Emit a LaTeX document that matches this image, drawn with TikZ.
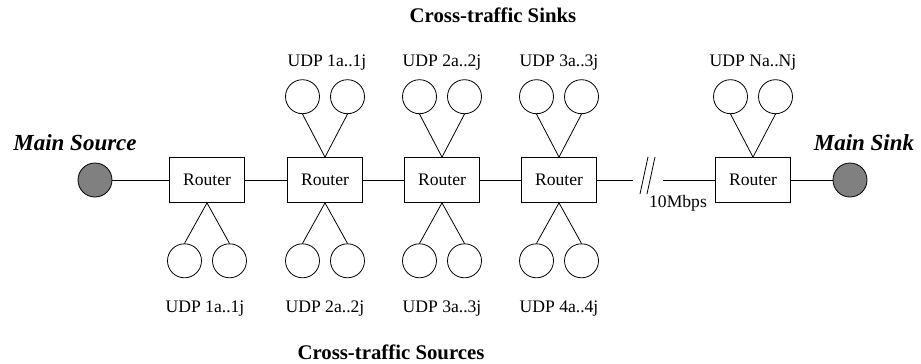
\documentclass[tikz,border=0pt]{standalone}
\usepackage{fontspec}
\setmainfont{Liberation Serif}
\usetikzlibrary{positioning}

\tikzset{
	router/.style={draw, minimum width=75pt, minimum height=45pt, inner sep=0pt, font=\fontsize{17.6}{20}\selectfont},
	host/.style={draw, circle, minimum size=34pt, inner sep=0pt},
	mainhost/.style={host, fill=gray},
	udplabel/.style={anchor=base, font=\fontsize{17.6}{20}\selectfont},
	grouptitle/.style={anchor=base, font=\fontsize{20.8}{24}\selectfont\bfseries},
	mainlabel/.style={anchor=base, font=\fontsize{23}{26}\selectfont\bfseries\itshape},
}

\begin{document}
\begin{tikzpicture}[x=1pt, y=-1pt, line width=0.8pt]
	\useasboundingbox (0,0) rectangle (921,364);
	%Titles
	\node [grouptitle] (sinks) at (493,22) {Cross-traffic Sinks};
	\node [grouptitle] (sources) at (391,359) {Cross-traffic Sources};
	%Main source and sink
	\node [mainhost] (src) at (95,180) {};
	\node [mainhost] (sink) at (850,180) {};
	\node [mainlabel] (srclabel) at (75,150) {Main Source};
	\node [mainlabel] (sinklabel) at (864,150) {Main Sink};
	%Routers
	\node [router] (r1) at (207,180) {Router};
	\node [router] (r2) at (325,180) {Router};
	\node [router] (r3) at (442,180) {Router};
	\node [router] (r4) at (559,180) {Router};
	\node [router] (r5) at (753,180) {Router};
	%Backbone
	\coordinate (b1) at (633,180);
	\coordinate (b2) at (663,180);
	\draw (src) -- (r1);
	\draw (r1) -- (r2);
	\draw (r2) -- (r3);
	\draw (r3) -- (r4);
	\draw (r4) -- (b1);
	\draw (b2) -- (r5);
	\draw (r5) -- (sink);
	\draw (640,194) -- (648,157);
	\draw (647,194) -- (655,157);
	\node [udplabel] (rate) at (678,207) {10Mbps};
	%Sinks above
	\node [host, above=43pt of r2.north, xshift=-22.5pt] (t2a) {};
	\node [host, above=43pt of r2.north, xshift=22.5pt] (t2b) {};
	\node [host, above=43pt of r3.north, xshift=-22.5pt] (t3a) {};
	\node [host, above=43pt of r3.north, xshift=22.5pt] (t3b) {};
	\node [host, above=43pt of r4.north, xshift=-22.5pt] (t4a) {};
	\node [host, above=43pt of r4.north, xshift=22.5pt] (t4b) {};
	\node [host, above=43pt of r5.north, xshift=-22.5pt] (t5a) {};
	\node [host, above=43pt of r5.north, xshift=22.5pt] (t5b) {};
	\draw (t2a.south) -- (r2.north) -- (t2b.south);
	\draw (t3a.south) -- (r3.north) -- (t3b.south);
	\draw (t4a.south) -- (r4.north) -- (t4b.south);
	\draw (t5a.south) -- (r5.north) -- (t5b.south);
	\node [udplabel] (lt2) at (327,66) {UDP 1a..1j};
	\node [udplabel] (lt3) at (442,66) {UDP 2a..2j};
	\node [udplabel] (lt4) at (559,66) {UDP 3a..3j};
	\node [udplabel] (lt5) at (753,66) {UDP Na..Nj};
	%Sources below
	\node [host, below=40.5pt of r1.south, xshift=-22.5pt] (s1a) {};
	\node [host, below=40.5pt of r1.south, xshift=22.5pt] (s1b) {};
	\node [host, below=40.5pt of r2.south, xshift=-22.5pt] (s2a) {};
	\node [host, below=40.5pt of r2.south, xshift=22.5pt] (s2b) {};
	\node [host, below=40.5pt of r3.south, xshift=-22.5pt] (s3a) {};
	\node [host, below=40.5pt of r3.south, xshift=22.5pt] (s3b) {};
	\node [host, below=40.5pt of r4.south, xshift=-22.5pt] (s4a) {};
	\node [host, below=40.5pt of r4.south, xshift=22.5pt] (s4b) {};
	\draw (s1a.north) -- (r1.south) -- (s1b.north);
	\draw (s2a.north) -- (r2.south) -- (s2b.north);
	\draw (s3a.north) -- (r3.south) -- (s3b.north);
	\draw (s4a.north) -- (r4.south) -- (s4b.north);
	\node [udplabel] (ls1) at (205,312) {UDP 1a..1j};
	\node [udplabel] (ls2) at (325,312) {UDP 2a..2j};
	\node [udplabel] (ls3) at (442,312) {UDP 3a..3j};
	\node [udplabel] (ls4) at (559,312) {UDP 4a..4j};
\end{tikzpicture}
\end{document}
